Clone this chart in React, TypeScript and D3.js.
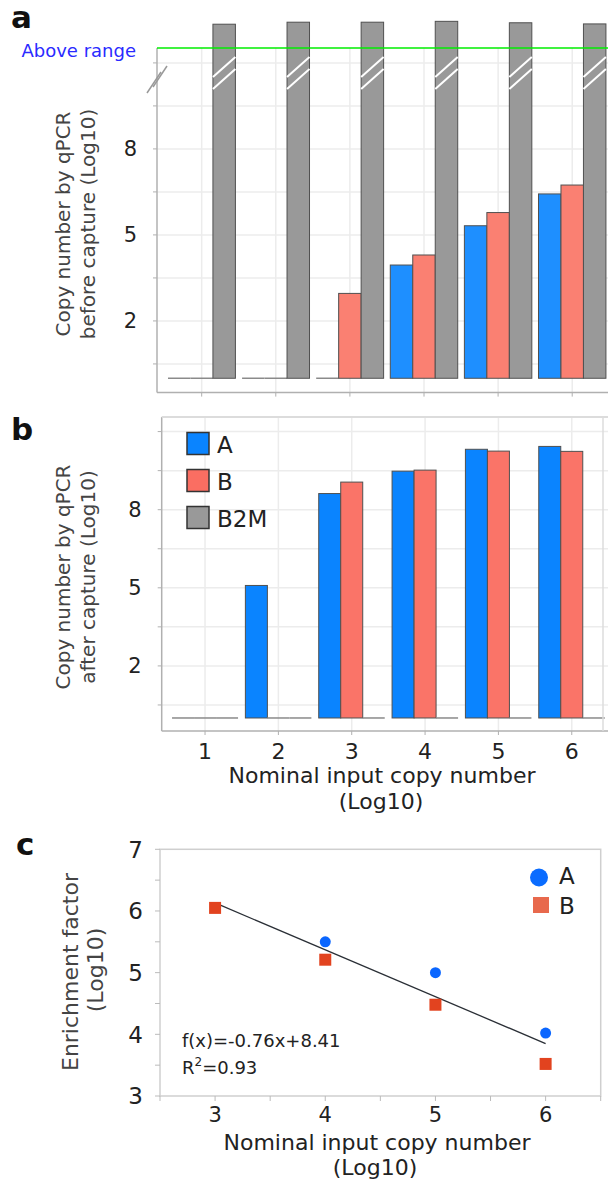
import React from "react";
import * as d3 from "d3";

// ---------- data ----------
const categories = ["1", "2", "3", "4", "5", "6"];
const seriesNames = ["A", "B", "B2M"];
// panel a: copy number before capture (Log10); B2M drawn above range (break)
const beforeA = [0, 0, 0, 3.95, 5.32, 6.43];
const beforeB = [0, 0, 2.96, 4.3, 5.78, 6.74];
const beforeB2M = [12.35, 12.42, 12.42, 12.45, 12.4, 12.36];
// panel b: copy number after capture (Log10)
const afterA = [0, 5.09, 8.62, 9.48, 10.32, 10.43];
const afterB = [0, 0, 9.06, 9.52, 10.25, 10.24];
const afterB2M = [0, 0, 0, 0, 0, 0];
const barYTicks = [2, 5, 8];
const barYMinor = [0.5, 2, 3.5, 5, 6.5, 8, 9.5, 11];
// panel c: enrichment factor (Log10)
const enrichX = [3, 4, 5, 6];
const enrichA: (number | null)[] = [null, 5.5, 5.0, 4.02];
const enrichB = [6.05, 5.21, 4.48, 3.52];
const fitSlope = -0.76;
const fitIntercept = 8.41;
const cYTicks = [3, 4, 5, 6, 7];
const cYMinor = [3.5, 4.5, 5.5, 6.5];
const cXTicks = [3, 4, 5, 6];
const cXMinor = [2.5, 3.5, 4.5, 5.5, 6.5];

const FONT = "DejaVu Sans, Verdana, sans-serif";
const GRID = "#ececec";
const AXIS = "#b0b0b0";

function BarPanel(props: {
  values: number[][];
  colors: string[];
  top: number;
  bottom: number;
  left: number;
  xRange: [number, number];
  yMax: number;
  padding: number;
  breakTop?: boolean;
}) {
  const { values, colors, top, bottom, left, xRange, yMax, padding } = props;
  const x = d3.scaleBand<string>().domain(categories).range(xRange).padding(padding);
  const sub = d3.scaleBand<string>().domain(seriesNames).range([0, x.bandwidth()]);
  const y = d3.scaleLinear().domain([-0.5, yMax]).range([bottom, top]);
  const right = 608;
  const els: React.ReactNode[] = [];
  // grid
  barYMinor.forEach((v) => {
    els.push(<line key={"gh" + v} x1={left} x2={right} y1={y(v)} y2={y(v)} stroke={GRID} strokeWidth={1.5} />);
    els.push(<line key={"tk" + v} x1={left - 4} x2={left} y1={y(v)} y2={y(v)} stroke={AXIS} strokeWidth={1} />);
  });
  categories.forEach((c) => {
    const cx = (x(c) as number) + x.bandwidth() / 2;
    els.push(<line key={"gv" + c} x1={cx} x2={cx} y1={top} y2={bottom} stroke={GRID} strokeWidth={1.5} />);
    els.push(<line key={"xt" + c} x1={cx} x2={cx} y1={bottom} y2={bottom + 4} stroke={AXIS} strokeWidth={1} />);
  });
  // bars
  categories.forEach((c, i) => {
    seriesNames.forEach((s, j) => {
      const v = values[j][i];
      const bx = (x(c) as number) + (sub(s) as number);
      const w = sub.bandwidth();
      if (v <= 0) {
        els.push(<line key={"z" + c + s} x1={bx} x2={bx + w} y1={y(0)} y2={y(0)} stroke="#8a8a8a" strokeWidth={1.5} />);
      } else {
        els.push(
          <rect key={"b" + c + s} x={bx} y={y(v)} width={w} height={y(0) - y(v)} fill={colors[j]} stroke="#505050" strokeWidth={1} />
        );
        if (props.breakTop && s === "B2M") {
          const y1 = top + 9;
          els.push(<line key={"w1" + c} x1={bx} y1={y1 + 20} x2={bx + w} y2={y1} stroke="#fff" strokeWidth={2} />);
          els.push(<line key={"w2" + c} x1={bx} y1={y1 + 32} x2={bx + w} y2={y1 + 12} stroke="#fff" strokeWidth={2} />);
        }
      }
    });
  });
  // axes
  els.push(<line key="ax-l" x1={left} x2={left} y1={top} y2={bottom} stroke={AXIS} strokeWidth={1.5} />);
  els.push(<line key="ax-b" x1={left} x2={right} y1={bottom} y2={bottom} stroke={AXIS} strokeWidth={1.5} />);
  barYTicks.forEach((v) => {
    els.push(
      <text key={"yl" + v} x={left - 20} y={y(v)} dy="0.36em" textAnchor="end" fontSize={21} fontFamily={FONT} fill="#222">
        {v}
      </text>
    );
  });
  return <g>{els}</g>;
}

export default function App() {
  // panel a
  const aTop = 48, aBottom = 392.6, aLeft = 157;
  // panel b
  const bTop = 417, bBottom = 731, bLeft = 161.7;
  const bx = d3.scaleBand<string>().domain(categories).range([164.7, 612.1]).padding(0.1);
  // panel c
  const cx = d3.scaleLinear().domain([2.5, 6.5]).range([160, 600.7]);
  const cy = d3.scaleLinear().domain([3, 7]).range([1096, 849.3]);
  const fitLine = d3.line<number>().x((d) => cx(d)).y((d) => cy(fitSlope * d + fitIntercept));

  return (
    <svg width={608} height={1183} style={{ position: "absolute", left: 0, top: 0, background: "#fff" }} fontFamily={FONT}>
      <rect x={0} y={0} width={608} height={1183} fill="#fff" />
      {/* ---------- panel a ---------- */}
      <text x={11} y={28} fontSize={31} fontWeight="bold" fill="#111">a</text>
      <BarPanel
        values={[beforeA, beforeB, beforeB2M]}
        colors={["#1e8fff", "#fa8072", "#999999"]}
        top={aTop}
        bottom={aBottom}
        left={aLeft}
        xRange={[161.3, 612.6]}
        yMax={11.52}
        padding={0.09}
        breakTop
      />
      <line x1={aLeft} x2={608} y1={aTop} y2={aTop} stroke="#00ee00" strokeWidth={1.5} />
      <text x={136} y={57} textAnchor="end" fontSize={18} fill="#2a2aff">Above range</text>
      <line x1={147} y1={93} x2={161} y2={72} stroke="#999" strokeWidth={1.5} />
      <line x1={153} y1={87} x2={167} y2={66} stroke="#999" strokeWidth={1.5} />
      <g fontSize={20} fill="#444" textAnchor="middle">
        <text transform="translate(70,224) rotate(-90)">Copy number by qPCR</text>
        <text transform="translate(95,224) rotate(-90)">before capture (Log10)</text>
      </g>

      {/* ---------- panel b ---------- */}
      <text x={11} y={440} fontSize={31} fontWeight="bold" fill="#111">b</text>
      <BarPanel
        values={[afterA, afterB, afterB2M]}
        colors={["#0a84ff", "#fa7468", "#999999"]}
        top={bTop}
        bottom={bBottom}
        left={bLeft}
        xRange={[164.7, 612.1]}
        yMax={11.56}
        padding={0.1}
      />
      <line x1={bLeft} x2={608} y1={bTop} y2={bTop} stroke="#dcdcdc" strokeWidth={2} />
      <line x1={603} x2={603} y1={bTop} y2={bBottom} stroke="#dcdcdc" strokeWidth={1.5} />
      {seriesNames.map((s, i) => (
        <g key={"lg" + s}>
          <rect x={187} y={432.5 + i * 37} width={22} height={22} fill={["#0a84ff", "#fa6e62", "#999999"][i]} stroke="#333" strokeWidth={1.5} />
          <text x={217} y={452.5 + i * 37} fontSize={23} fill="#222">{s}</text>
        </g>
      ))}
      {categories.map((c) => (
        <text key={"bxl" + c} x={(bx(c) as number) + bx.bandwidth() / 2} y={759} textAnchor="middle" fontSize={22} fill="#222">
          {c}
        </text>
      ))}
      <g fontSize={20} fill="#444" textAnchor="middle">
        <text transform="translate(70,577) rotate(-90)">Copy number by qPCR</text>
        <text transform="translate(95,577) rotate(-90)">after capture (Log10)</text>
      </g>
      <g fontSize={22} fill="#222" textAnchor="middle">
        <text x={382} y={783}>Nominal input copy number</text>
        <text x={381} y={809}>(Log10)</text>
      </g>

      {/* ---------- panel c ---------- */}
      <text x={16} y={855} fontSize={31} fontWeight="bold" fill="#111">c</text>
      <rect x={160} y={849.3} width={440.7} height={246.7} fill="none" stroke="#cfcfcf" strokeWidth={1.5} />
      {cYTicks.map((v) => (
        <g key={"cyt" + v}>
          <line x1={155} x2={160} y1={cy(v)} y2={cy(v)} stroke="#bbb" strokeWidth={1} />
          <text x={143} y={cy(v)} dy="0.36em" textAnchor="end" fontSize={23} fill="#222">{v}</text>
        </g>
      ))}
      {cYMinor.map((v) => (
        <line key={"cym" + v} x1={155} x2={160} y1={cy(v)} y2={cy(v)} stroke="#bbb" strokeWidth={1} />
      ))}
      {cXTicks.map((v) => (
        <g key={"cxt" + v}>
          <line x1={cx(v)} x2={cx(v)} y1={1096} y2={1101} stroke="#bbb" strokeWidth={1} />
          <text x={cx(v)} y={1122} textAnchor="middle" fontSize={21} fill="#222">{v}</text>
        </g>
      ))}
      {cXMinor.map((v) => (
        <line key={"cxm" + v} x1={cx(v)} x2={cx(v)} y1={1096} y2={1101} stroke="#bbb" strokeWidth={1} />
      ))}
      <path d={fitLine([3, 6]) || ""} fill="none" stroke="#2a2f36" strokeWidth={1.3} />
      {enrichX.map((xv, i) =>
        enrichA[i] == null ? null : (
          <circle key={"ca" + xv} cx={cx(xv)} cy={cy(enrichA[i] as number)} r={5.5} fill="#0a66ff" />
        )
      )}
      {enrichX.map((xv, i) => (
        <rect key={"cb" + xv} x={cx(xv) - 6} y={cy(enrichB[i]) - 6} width={12} height={12} fill="#e2431f" />
      ))}
      <circle cx={539} cy={877.5} r={9} fill="#0a6cff" />
      <text x={559} y={884} fontSize={23} fill="#222">A</text>
      <rect x={533} y={897} width={16} height={16} fill="#e8694d" />
      <text x={559} y={914} fontSize={23} fill="#222">B</text>
      <g fontSize={18} fill="#222">
        <text x={182} y={1047}>f(x)=-0.76x+8.41</text>
        <text x={182} y={1074}>
          R<tspan fontSize={12} dy={-8}>2</tspan>
          <tspan dy={8}>=0.93</tspan>
        </text>
      </g>
      <g fontSize={22} fill="#444" textAnchor="middle">
        <text transform="translate(78,972) rotate(-90)">Enrichment factor</text>
        <text transform="translate(103,970) rotate(-90)">(Log10)</text>
      </g>
      <g fontSize={22} fill="#222" textAnchor="middle">
        <text x={377} y={1150}>Nominal input copy number</text>
        <text x={375} y={1175}>(Log10)</text>
      </g>
    </svg>
  );
}
